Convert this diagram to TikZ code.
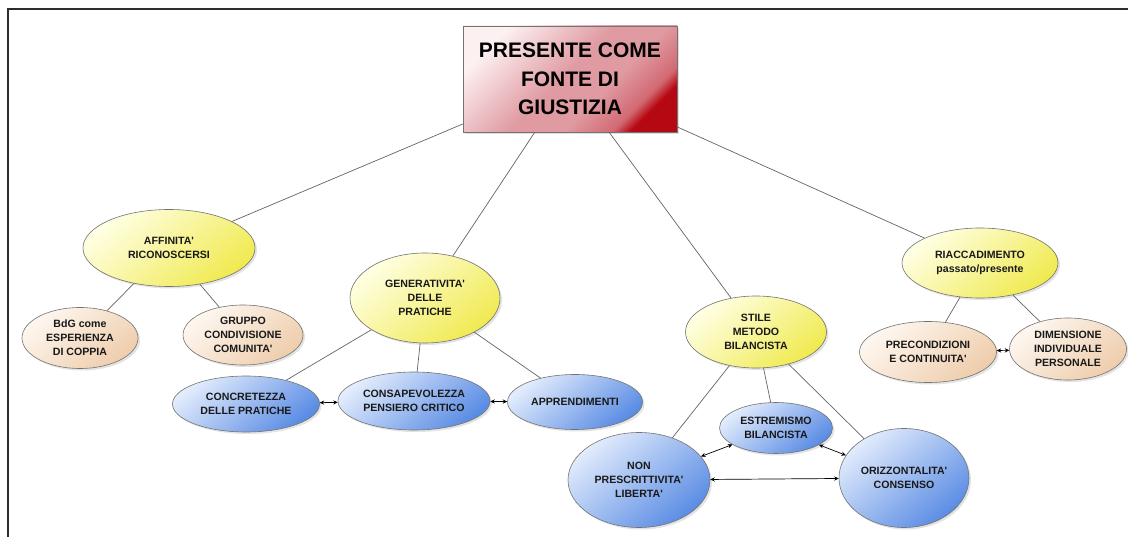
\documentclass[tikz,border=0pt]{standalone}
\usepackage{fontspec}
\setmainfont{Liberation Sans}
\usetikzlibrary{shapes.geometric,arrows.meta,shadows}
\definecolor{edgegray}{RGB}{100,100,100}
\definecolor{rimgray}{RGB}{115,115,115}
\definecolor{txt}{RGB}{25,25,25}
\definecolor{frame}{RGB}{45,45,45}
\definecolor{yelL}{RGB}{255,255,228}
\definecolor{yelD}{RGB}{240,234,80}
\definecolor{peaL}{RGB}{254,247,240}
\definecolor{peaD}{RGB}{238,205,172}
\definecolor{bluL}{RGB}{226,236,252}
\definecolor{bluD}{RGB}{90,140,228}
\definecolor{redL}{RGB}{252,240,241}
\definecolor{redM}{RGB}{224,155,162}
\definecolor{redR}{RGB}{210,105,115}
\definecolor{redD}{RGB}{182,8,18}
\pgfdeclareverticalshading{rootshade}{100bp}{color(0bp)=(redD); color(25bp)=(redD); color(29bp)=(redR); color(40bp)=(redM); color(52bp)=(redM); color(75bp)=(redL); color(100bp)=(redL)}
\newcommand{\ap}{\textquotesingle}
\tikzset{
  bubble/.style={ellipse, draw=rimgray, line width=0.6pt, inner sep=0pt, align=center,
    font=\bfseries\fontsize{10.6}{14}\selectfont, text=txt,
    drop shadow={opacity=0.22, shadow xshift=2pt, shadow yshift=-2pt}},
  yel/.style={bubble, top color=yelL, bottom color=yelD, shading angle=40},
  pea/.style={bubble, top color=peaL, bottom color=peaD, shading angle=40},
  blu/.style={bubble, top color=bluL, bottom color=bluD, shading angle=40},
  rootbox/.style={rectangle, draw=rimgray, line width=0.6pt, inner sep=0pt, align=center,
    font=\bfseries\fontsize{21}{28.5}\selectfont, text=black,
    minimum width=214pt, minimum height=106pt,
    shading=rootshade, shading angle=45,
    drop shadow={opacity=0.25, shadow xshift=2pt, shadow yshift=-2pt}},
  link/.style={draw=edgegray, line width=0.7pt},
  biarrow/.style={draw=black, line width=0.7pt,
    {Stealth[length=4.5pt,width=4.2pt]}-{Stealth[length=4.5pt,width=4.2pt]}}
}
\begin{document}
\begin{tikzpicture}[x=1pt,y=-1pt]
\useasboundingbox (0,0) rectangle (1128,537);
\fill[white] (0,0) rectangle (1128,537);
\draw[frame, line width=2pt] (7.5,537) -- (7.5,9.5) -- (1128,9.5);

\node[rootbox] (root) at (570,79) {PRESENTE COME\\FONTE DI\\GIUSTIZIA};

\node[yel, minimum width=172pt, minimum height=77pt] (aff) at (169,248) {AFFINITA\ap\\RICONOSCERSI};
\node[pea, minimum width=116pt, minimum height=61pt] (bdg) at (80,338) {BdG come\\ESPERIENZA\\DI COPPIA};
\node[pea, minimum width=120pt, minimum height=60pt] (grp) at (243,335) {GRUPPO\\CONDIVISIONE\\COMUNITA\ap};

\node[yel, minimum width=150pt, minimum height=90pt] (gen) at (425,298) {GENERATIVITA\ap\\DELLE\\PRATICHE};
\node[blu, minimum width=147pt, minimum height=56pt] (con) at (246,404) {CONCRETEZZA\\DELLE PRATICHE};
\node[blu, minimum width=152pt, minimum height=58pt] (cns) at (414,401) {CONSAPEVOLEZZA\\PENSIERO CRITICO};
\node[blu, minimum width=135pt, minimum height=55pt] (app) at (575,402) {APPRENDIMENTI};

\node[yel, minimum width=141pt, minimum height=72pt] (sti) at (756,332) {STILE\\METODO\\BILANCISTA};
\node[blu, minimum width=113pt, minimum height=51pt] (est) at (776,428) {ESTREMISMO\\BILANCISTA};
\node[blu, minimum width=142pt, minimum height=95pt] (non) at (639,480) {NON\\PRESCRITTIVITA\ap\\LIBERTA\ap};
\node[blu, minimum width=130pt, minimum height=99pt] (ori) at (904,478) {ORIZZONTALITA\ap\\CONSENSO};

\node[yel, minimum width=156pt, minimum height=70pt] (ria) at (980,263) {RIACCADIMENTO\\passato/presente};
\node[pea, minimum width=137pt, minimum height=61pt] (pre) at (928,352) {PRECONDIZIONI\\E CONTINUITA\ap};
\node[pea, minimum width=117pt, minimum height=62pt] (dim) at (1068,349) {DIMENSIONE\\INDIVIDUALE\\PERSONALE};

\draw[link] (root) -- (aff);
\draw[link] (root) -- (gen);
\draw[link] (root) -- (sti);
\draw[link] (root) -- (ria);
\draw[link] (aff) -- (bdg);
\draw[link] (aff) -- (grp);
\draw[link] (gen) -- (con);
\draw[link] (gen) -- (cns);
\draw[link] (gen) -- (app);
\draw[link] (sti) -- (est);
\draw[link] (sti) -- (non);
\draw[link] (sti) -- (ori);
\draw[link] (ria) -- (pre);
\draw[link] (ria) -- (dim);

\draw[biarrow] (con) -- (cns);
\draw[biarrow] (cns) -- (app);
\draw[biarrow] (pre) -- (dim);
\draw[biarrow] (non) -- (est);
\draw[biarrow] (est) -- (ori);
\draw[biarrow] (non) -- (ori);
\end{tikzpicture}
\end{document}
